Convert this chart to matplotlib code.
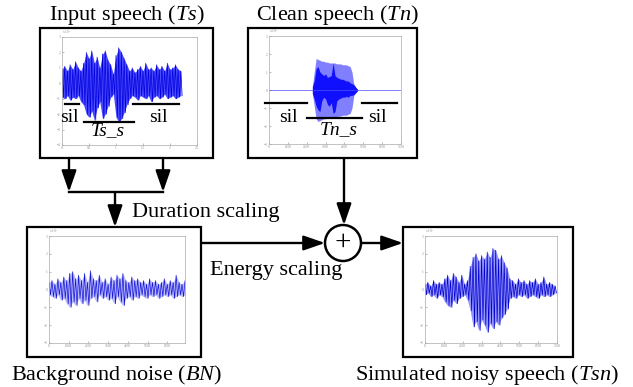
import numpy as np
import matplotlib
matplotlib.use("Agg")
import matplotlib.pyplot as plt
from matplotlib.patches import Rectangle, Circle

plt.rcParams['font.family'] = ['Liberation Serif', 'DejaVu Serif']
plt.rcParams['mathtext.fontset'] = 'custom'
plt.rcParams['mathtext.rm'] = 'Liberation Serif'
plt.rcParams['mathtext.it'] = 'Liberation Serif:italic'

W, H = 633, 387

# input speech Ts: envelope, time in 1e4 samples, step 0.05
ts_step = 0.05
ts_upper = [0.9, 1.1, 0.8, 1.2, 0.9, 1.4, 1.0, 0.8, 1.3, 2.0, 1.6, 2.1, 1.3, 1.7, 1.0,
            1.9, 2.1, 1.5, 1.2, 0.6, 1.8, 2.3, 2.0, 1.6, 1.2, 0.8, 1.0, 0.7, 0.9, 1.1,
            0.8, 1.3, 0.9, 1.0, 0.8, 1.2, 0.9, 1.1, 0.8, 1.3, 0.9, 1.0, 1.2, 0.9, 0.8]
ts_lower = [-0.9, -1.0, -0.8, -1.1, -0.9, -1.0, -0.8, -1.2, -1.4, -2.0, -2.2, -1.8, -2.4, -1.6, -1.2,
            -2.3, -2.0, -1.5, -0.9, -0.7, -2.2, -2.5, -2.3, -1.9, -1.4, -1.0, -0.8, -0.9, -1.1, -0.8,
            -0.9, -1.0, -0.8, -1.2, -0.9, -0.8, -1.0, -0.9, -0.7, -1.0, -0.9, -0.8, -1.0, -0.9, -0.8]

# clean speech Tn: outer (light) and inner (dark) envelopes, step 100 from 2300
tn_start, tn_step = 2300, 100
tn_outer_up = [0.2, 1.0, 1.75, 1.7, 1.65, 1.6, 1.6, 1.55, 1.55, 1.5, 1.5, 1.5, 1.5,
               1.45, 1.45, 1.45, 1.4, 1.4, 1.4, 1.35, 1.3, 1.0, 0.3, 0.15, 0.03]
tn_outer_lo = [-0.2, -0.9, -1.6, -1.75, -1.7, -1.65, -1.6, -1.6, -1.55, -1.55, -1.5, -1.5, -1.5,
               -1.5, -1.45, -1.45, -1.4, -1.4, -1.4, -1.35, -1.3, -1.0, -0.3, -0.15, -0.03]
tn_inner_up = [0.2, 0.5, 1.2, 1.3, 1.0, 0.9, 0.8, 0.9, 0.7, 0.75, 0.8, 1.5, 0.8,
               0.7, 0.65, 0.6, 0.6, 0.55, 0.5, 0.5, 0.4, 0.35, 0.3, 0.15, 0.03]
tn_inner_lo = [-0.2, -0.5, -0.9, -1.1, -1.2, -0.6, -0.4, -0.5, -0.8, -0.9, -0.7, -1.3, -1.2,
               -0.6, -0.5, -0.45, -0.4, -0.4, -0.35, -0.4, -0.3, -0.3, -0.25, -0.15, -0.03]

# background noise BN, step 150
bn_step = 150
bn_upper = [0.4, 0.5, 0.3, 0.6, 0.4, 0.7, 0.5, 0.9, 1.0, 0.6, 0.8,
            0.5, 0.9, 0.4, 1.05, 0.6, 0.5, 0.8, 0.4, 0.6, 0.3,
            0.7, 0.5, 0.8, 0.6, 0.9, 0.5, 0.4, 0.7, 0.5, 0.6,
            0.4, 0.5, 0.3, 0.6, 0.4, 0.5, 0.3, 0.4, 0.6, 0.3, 0.5, 0.4, 0.8, 0.4, 0.3, 0.5]
bn_lower = [-0.3, -0.4, -0.5, -0.3, -0.6, -0.5, -0.8, -1.0, -0.7, -0.9, -0.5,
            -0.8, -0.6, -0.9, -0.5, -0.4, -0.7, -0.3, -0.5, -0.4, -0.6,
            -0.5, -0.8, -0.4, -0.7, -0.9, -0.5, -0.4, -0.6, -0.4, -0.5,
            -0.3, -0.4, -0.5, -0.3, -0.4, -0.3, -0.5, -0.4, -0.3, -0.4, -0.3, -0.5, -0.4, -0.3, -0.4, -0.3]

# simulated noisy speech Tsn, step 150
tsn_step = 150
tsn_upper = [0.3, 0.4, 0.2, 0.5, 0.3, 0.4, 0.3, 0.6, 0.8, 0.5, 0.9, 0.7, 0.4, 0.8, 0.3, 0.5,
             1.3, 1.8, 2.0, 1.6, 1.9, 1.7, 2.1, 1.8, 2.3, 2.2, 1.7, 1.9, 1.5, 1.2,
             0.6, 0.5, 0.3, 0.6, 0.4, 0.5, 0.3, 0.5, 0.4, 0.6, 0.3, 0.4, 0.7, 0.3, 0.4, 0.3, 0.2]
tsn_lower = [-0.3, -0.2, -0.4, -0.3, -0.5, -0.3, -0.4, -0.7, -0.9, -1.0, -0.6, -0.8, -0.5, -0.4, -0.3, -0.6,
             -1.2, -2.1, -1.8, -2.3, -1.7, -2.0, -2.4, -1.9, -2.2, -1.8, -2.0, -1.6, -1.4, -1.1,
             -0.5, -0.4, -0.5, -0.3, -0.4, -0.3, -0.5, -0.4, -0.3, -0.4, -0.5, -0.3, -0.4, -0.3, -0.4, -0.3, -0.2]


def px_axes(fig, x0, y0, x1, y1):
    return fig.add_axes([x0 / W, 1 - y1 / H, (x1 - x0) / W, (y1 - y0) / H])


def style_inset(ax, xlim, xticks, xlabels, ylim, yticks):
    ax.set_xlim(*xlim)
    ax.set_ylim(*ylim)
    ax.set_xticks(xticks)
    ax.set_xticklabels(xlabels)
    ax.set_yticks(yticks)
    ax.tick_params(direction='in', length=1.5, width=0.4, labelsize=2.5,
                   colors='#888888', pad=1)
    for s in ax.spines.values():
        s.set_color('#aaaaaa')
        s.set_linewidth(0.5)
    ax.text(0.0, 1.01, r'x 10$^4$', transform=ax.transAxes, fontsize=2.5,
            color='#888888', ha='left', va='bottom')


def waveform(ax, x0, step, upper, lower, fill_col, line_col, alpha=0.7):
    x = x0 + step * np.arange(len(upper))
    ax.fill_between(x, lower, upper, color=fill_col, alpha=alpha, lw=0)
    zx = np.ravel(np.column_stack([x, x + step / 2]))
    zy = np.ravel(np.column_stack([upper, lower]))
    ax.plot(zx, zy, color=line_col, lw=0.5)


fig = plt.figure(figsize=(W / 100, H / 100), dpi=100)

# Ts
ax1 = px_axes(fig, 62, 37, 197, 145)
waveform(ax1, 0, ts_step, ts_upper, ts_lower, '#2a2aff', '#0000dd', 0.85)
style_inset(ax1, (0, 2.5), [0, 0.5, 1, 1.5, 2, 2.5], ['0', '0.5', '1', '1.5', '2', '2.5'],
            (-4, 3), range(-4, 4))

# Tn
ax2 = px_axes(fig, 269, 36, 401, 144)
ax2.axhline(0, color='#5050ff', lw=0.5)
x_tn = tn_start + tn_step * np.arange(len(tn_outer_up))
ax2.fill_between(x_tn, tn_outer_lo, tn_outer_up, color='#7f7fff', lw=0)
ax2.fill_between(x_tn, tn_inner_lo, tn_inner_up, color='#1010ff', lw=0)
style_inset(ax2, (0, 7000), range(0, 8000, 1000), [str(v) for v in range(0, 8000, 1000)],
            (-3, 3), range(-3, 4))

# BN
ax3 = px_axes(fig, 49, 236, 185, 343)
waveform(ax3, 0, bn_step, bn_upper, bn_lower, '#9c9cff', '#1515d5', 0.7)
style_inset(ax3, (0, 6900), range(0, 7000, 1000), [str(v) for v in range(0, 7000, 1000)],
            (-3, 3), range(-3, 4))

# Tsn
ax4 = px_axes(fig, 425, 236, 557, 343)
waveform(ax4, 0, tsn_step, tsn_upper, tsn_lower, '#6a6aff', '#0000cc', 0.7)
style_inset(ax4, (0, 7000), range(0, 8000, 1000), [str(v) for v in range(0, 8000, 1000)],
            (-3, 3), range(-3, 4))

# overlay for the block diagram, in pixel coordinates
ov = fig.add_axes([0, 0, 1, 1])
ov.set_xlim(0, W)
ov.set_ylim(H, 0)
ov.axis('off')
ov.patch.set_alpha(0)

for x0, y0, x1, y1 in [(40, 28, 213, 158), (248, 28, 417, 158),
                       (27, 227, 201, 357), (403, 227, 573, 357)]:
    ov.add_patch(Rectangle((x0, y0), x1 - x0, y1 - y0, fill=False, ec='black', lw=1.6))

arrow = dict(arrowstyle='-|>,head_length=1.3,head_width=0.45', color='black', lw=1.7,
             mutation_scale=10, shrinkA=0, shrinkB=0)


def arr(x0, y0, x1, y1):
    ov.annotate('', xy=(x1, y1), xytext=(x0, y0), arrowprops=arrow)


arr(69, 158, 69, 192)
arr(163, 158, 163, 192)
ov.plot([69, 163], [192, 192], color='black', lw=1.7, solid_capstyle='projecting')
arr(115, 192, 115, 227)
arr(344, 158, 344, 225)
arr(201, 243, 325, 243)
arr(361, 243, 403, 243)
ov.add_patch(Circle((343, 243), 18, fill=False, ec='black', lw=1.8))
ov.text(343, 243, '+', ha='center', va='center', fontsize=21)

# sil / speech markers
seg = dict(color='black', lw=1.6)
ov.plot([65, 79], [104, 104], **seg)
ov.plot([84, 134], [122, 122], **seg)
ov.plot([133, 179], [104, 104], **seg)
ov.plot([265, 307], [103, 103], **seg)
ov.plot([307, 362], [118, 118], **seg)
ov.plot([362, 397], [103, 103], **seg)
for x, y in [(69, 118), (158, 118), (288, 118), (377, 118)]:
    ov.text(x, y, 'sil', ha='center', va='center', fontsize=14)
ov.text(108, 131, 'Ts_s', ha='center', va='center', fontsize=14, style='italic')
ov.text(339, 130, 'Tn_s', ha='center', va='center', fontsize=14, style='italic')

fs = 16
ov.text(127, 15, r'Input speech ($Ts$)', ha='center', va='center', fontsize=fs)
ov.text(337, 15, r'Clean speech ($Tn$)', ha='center', va='center', fontsize=fs)
ov.text(132, 212, 'Duration scaling', ha='left', va='center', fontsize=fs)
ov.text(210, 270, 'Energy scaling', ha='left', va='center', fontsize=fs)
ov.text(117, 375, r'Background noise ($BN$)', ha='center', va='center', fontsize=fs)
ov.text(487, 375, r'Simulated noisy speech ($Tsn$)', ha='center', va='center', fontsize=fs)

fig.savefig('out.png', dpi=100)
